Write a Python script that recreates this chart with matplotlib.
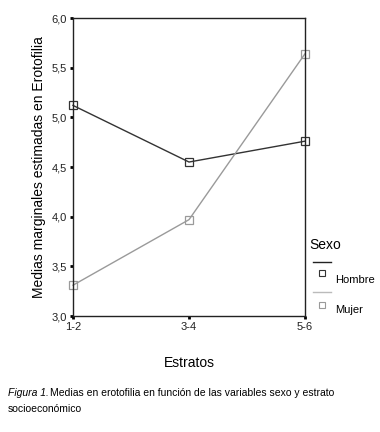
import matplotlib
matplotlib.use("Agg")
import matplotlib.pyplot as plt
from matplotlib.lines import Line2D

# data
estratos = ["1-2", "3-4", "5-6"]
hombre = [5.12, 4.55, 4.76]
mujer = [3.31, 3.97, 5.64]
yticks = [3.0, 3.5, 4.0, 4.5, 5.0, 5.5, 6.0]

plt.rcParams["font.family"] = ["Liberation Sans", "DejaVu Sans"]

W, H = 380, 432
fig = plt.figure(figsize=(W / 100, H / 100), dpi=100)
ax = fig.add_axes([73 / W, 1 - 316 / H, (305 - 73) / W, (316 - 18) / H])

x = range(len(estratos))
ax.plot(x, hombre, color="#333333", lw=1.0, marker="s", ms=6,
        mfc="none", mec="#333333", mew=0.9, clip_on=False)
ax.plot(x, mujer, color="#9a9a9a", lw=1.0, marker="s", ms=6,
        mfc="none", mec="#9a9a9a", mew=0.9, clip_on=False)

ax.set_xlim(0, 2)
ax.set_ylim(3.0, 6.0)
ax.set_xticks(list(x))
ax.set_xticklabels(estratos, fontsize=8, color="#222222")
ax.set_yticks(yticks)
ax.set_yticklabels([f"{v:.1f}".replace(".", ",") for v in yticks],
                   fontsize=8, color="#222222")
ax.tick_params(direction="out", length=2.5, width=2, pad=2)
for s in ax.spines.values():
    s.set_linewidth(1.0)
    s.set_color("#222222")

ax.set_xlabel("Estratos", fontsize=10, labelpad=17)
ax.set_ylabel("Medias marginales estimadas en Erotofilia", fontsize=10,
              labelpad=4)

# legend drawn by hand, SPSS style
def px(xp, yp):
    return xp / W, 1 - yp / H

fig.text(*px(309, 245), "Sexo", fontsize=10, va="center", ha="left")
fig.add_artist(Line2D([313 / W, 331 / W], [1 - 262 / H] * 2,
                      color="#222222", lw=1.0))
fig.add_artist(Line2D([322 / W], [1 - 273 / H], marker="s", ms=5,
                      mfc="none", mec="#333333", mew=0.8))
fig.text(*px(335, 280), "Hombre", fontsize=8, va="center", ha="left")
fig.add_artist(Line2D([313 / W, 331 / W], [1 - 292 / H] * 2,
                      color="#bbbbbb", lw=1.0))
fig.add_artist(Line2D([322 / W], [1 - 305 / H], marker="s", ms=5,
                      mfc="none", mec="#999999", mew=0.8))
fig.text(*px(335, 310), "Mujer", fontsize=8, va="center", ha="left")

# caption
fig.text(*px(8, 393), "Figura 1.", fontsize=7.5, style="italic",
         va="center", ha="left")
fig.text(*px(50, 393),
         "Medias en erotofilia en función de las variables sexo y estrato",
         fontsize=7.5, va="center", ha="left")
fig.text(*px(8, 409), "socioeconómico", fontsize=7.5,
         va="center", ha="left")

fig.savefig("out.png", dpi=100)
